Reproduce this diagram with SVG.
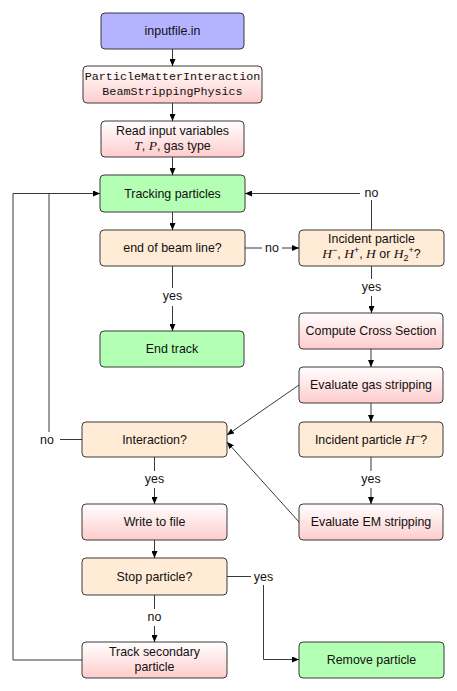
<svg xmlns="http://www.w3.org/2000/svg" width="457" height="691" viewBox="0 0 457 691">
<defs>
<linearGradient id="pinkg" x1="0" y1="0" x2="0" y2="1">
<stop offset="0" stop-color="#ffffff"/>
<stop offset="1" stop-color="#ffcccc"/>
</linearGradient>
<marker id="ah" markerWidth="7" markerHeight="6" refX="7" refY="3" orient="auto" markerUnits="userSpaceOnUse">
<path d="M0,0 L7,3 L0,6 z" fill="#000"/>
</marker>
</defs>
<style>
.box{stroke:#3a3a3a;stroke-width:1}
.blue{fill:#b3b3ff}
.pink{fill:url(#pinkg)}
.orange{fill:#ffebd6}
.green{fill:#b3ffb3}
text{font-family:"Liberation Sans","DejaVu Sans",sans-serif;font-size:12.4px;fill:#111;text-anchor:middle}
.mono{font-family:"Liberation Mono","DejaVu Sans Mono",monospace;font-size:11.7px}
.m{font-family:"Liberation Serif","DejaVu Serif",serif;font-style:italic;font-size:13.5px}
.s{font-size:9px}
.c{fill:none;stroke:#222;stroke-width:0.9}
.a{marker-end:url(#ah)}
</style>
<g id="n-input"><rect class="box blue" x="101" y="13" width="143" height="36" rx="4"/><text x="172.5" y="35">inputfile.in</text></g>
<g id="n-pmi"><rect class="box pink" x="83" y="66" width="179" height="37" rx="4"/><text class="mono" x="172.5" y="80">ParticleMatterInteraction</text><text class="mono" x="172.5" y="95">BeamStrippingPhysics</text></g>
<g id="n-read"><rect class="box pink" x="101" y="121" width="143" height="36" rx="4"/><text x="172.5" y="135">Read input variables</text><text x="172.5" y="150"><tspan class="m">T</tspan>, <tspan class="m">P</tspan>, gas type</text></g>
<g id="n-track"><rect class="box green" x="100" y="175" width="145" height="37" rx="4"/><text x="172.5" y="197.5">Tracking particles</text></g>
<g id="n-end"><rect class="box orange" x="100" y="230" width="145" height="36" rx="4"/><text x="172.5" y="252">end of beam line?</text></g>
<g id="n-incident"><rect class="box orange" x="299" y="230" width="145" height="36" rx="4"/><text x="371.5" y="243">Incident particle</text><text x="371.5" y="258"><tspan class="m">H</tspan><tspan class="s" dy="-5">−</tspan><tspan dy="5">, </tspan><tspan class="m">H</tspan><tspan class="s" dy="-5">+</tspan><tspan dy="5">, </tspan><tspan class="m">H</tspan> or <tspan class="m">H</tspan><tspan class="s" dy="3">2</tspan><tspan class="s" dy="-8">+</tspan><tspan dy="5">?</tspan></text></g>
<g id="n-endtrack"><rect class="box green" x="100" y="331" width="144" height="36" rx="4"/><text x="172" y="353">End track</text></g>
<g id="n-cross"><rect class="box pink" x="299" y="313" width="144" height="36" rx="4"/><text x="371" y="335">Compute Cross Section</text></g>
<g id="n-gas"><rect class="box pink" x="299" y="367" width="144" height="36" rx="4"/><text x="371" y="389">Evaluate gas stripping</text></g>
<g id="n-hminus"><rect class="box orange" x="299" y="422" width="144" height="35" rx="4"/><text x="371" y="443.5">Incident particle <tspan class="m">H</tspan><tspan class="s" dy="-5">−</tspan><tspan dy="5">?</tspan></text></g>
<g id="n-em"><rect class="box pink" x="299" y="504" width="144" height="36" rx="4"/><text x="371" y="526">Evaluate EM stripping</text></g>
<g id="n-interaction"><rect class="box orange" x="82" y="422" width="145" height="35" rx="4"/><text x="154.5" y="443.5">Interaction?</text></g>
<g id="n-write"><rect class="box pink" x="82" y="504" width="145" height="36" rx="4"/><text x="154.5" y="526">Write to file</text></g>
<g id="n-stop"><rect class="box orange" x="82" y="558" width="145" height="37" rx="4"/><text x="154.5" y="580.5">Stop particle?</text></g>
<g id="n-secondary"><rect class="box pink" x="82" y="642" width="145" height="36" rx="4"/><text x="154.5" y="656">Track secondary</text><text x="154.5" y="671">particle</text></g>
<g id="n-remove"><rect class="box green" x="299" y="642" width="145" height="36" rx="4"/><text x="371.5" y="664">Remove particle</text></g>
<g id="connectors">
<line class="c a" x1="172.5" y1="49" x2="172.5" y2="66"/>
<line class="c a" x1="172.5" y1="103" x2="172.5" y2="121"/>
<line class="c a" x1="172.5" y1="157" x2="172.5" y2="175"/>
<line class="c a" x1="172.5" y1="212" x2="172.5" y2="230"/>
<line class="c" x1="172.5" y1="266" x2="172.5" y2="288"/>
<text x="172.5" y="300">yes</text>
<line class="c a" x1="172.5" y1="306" x2="172.5" y2="331"/>
<line class="c" x1="245" y1="248" x2="262" y2="248"/>
<text x="272" y="252">no</text>
<line class="c a" x1="282" y1="248" x2="299" y2="248"/>
<line class="c" x1="371.5" y1="230" x2="371.5" y2="200"/>
<text x="371.5" y="197">no</text>
<path class="c a" d="M360,193.5 L245,193.5"/>
<line class="c" x1="371.5" y1="266" x2="371.5" y2="279"/>
<text x="371.5" y="291">yes</text>
<line class="c a" x1="371.5" y1="296" x2="371.5" y2="313"/>
<line class="c a" x1="371" y1="349" x2="371" y2="367"/>
<line class="c a" x1="371" y1="403" x2="371" y2="422"/>
<line class="c" x1="371" y1="457" x2="371" y2="471"/>
<text x="371" y="483">yes</text>
<line class="c a" x1="371" y1="488" x2="371" y2="504"/>
<line class="c a" x1="299" y1="385" x2="227" y2="435"/>
<line class="c a" x1="299" y1="522" x2="227" y2="442"/>
<line class="c" x1="154.5" y1="457" x2="154.5" y2="471"/>
<text x="154.5" y="483">yes</text>
<line class="c a" x1="154.5" y1="488" x2="154.5" y2="504"/>
<line class="c a" x1="154.5" y1="540" x2="154.5" y2="558"/>
<line class="c" x1="154.5" y1="595" x2="154.5" y2="609"/>
<text x="154.5" y="621">no</text>
<line class="c a" x1="154.5" y1="626" x2="154.5" y2="642"/>
<line class="c" x1="82" y1="439.5" x2="60" y2="439.5"/>
<text x="47" y="443.5">no</text>
<path class="c a" d="M49,432 L49,193.5 L100,193.5"/>
<path class="c" d="M82,660 L13,660 L13,193.5 L49,193.5"/>
<line class="c" x1="227" y1="576.5" x2="251" y2="576.5"/>
<text x="263.5" y="580.5">yes</text>
<path class="c a" d="M263.5,585 L263.5,659.5 L299,659.5"/>
</g>
</svg>
